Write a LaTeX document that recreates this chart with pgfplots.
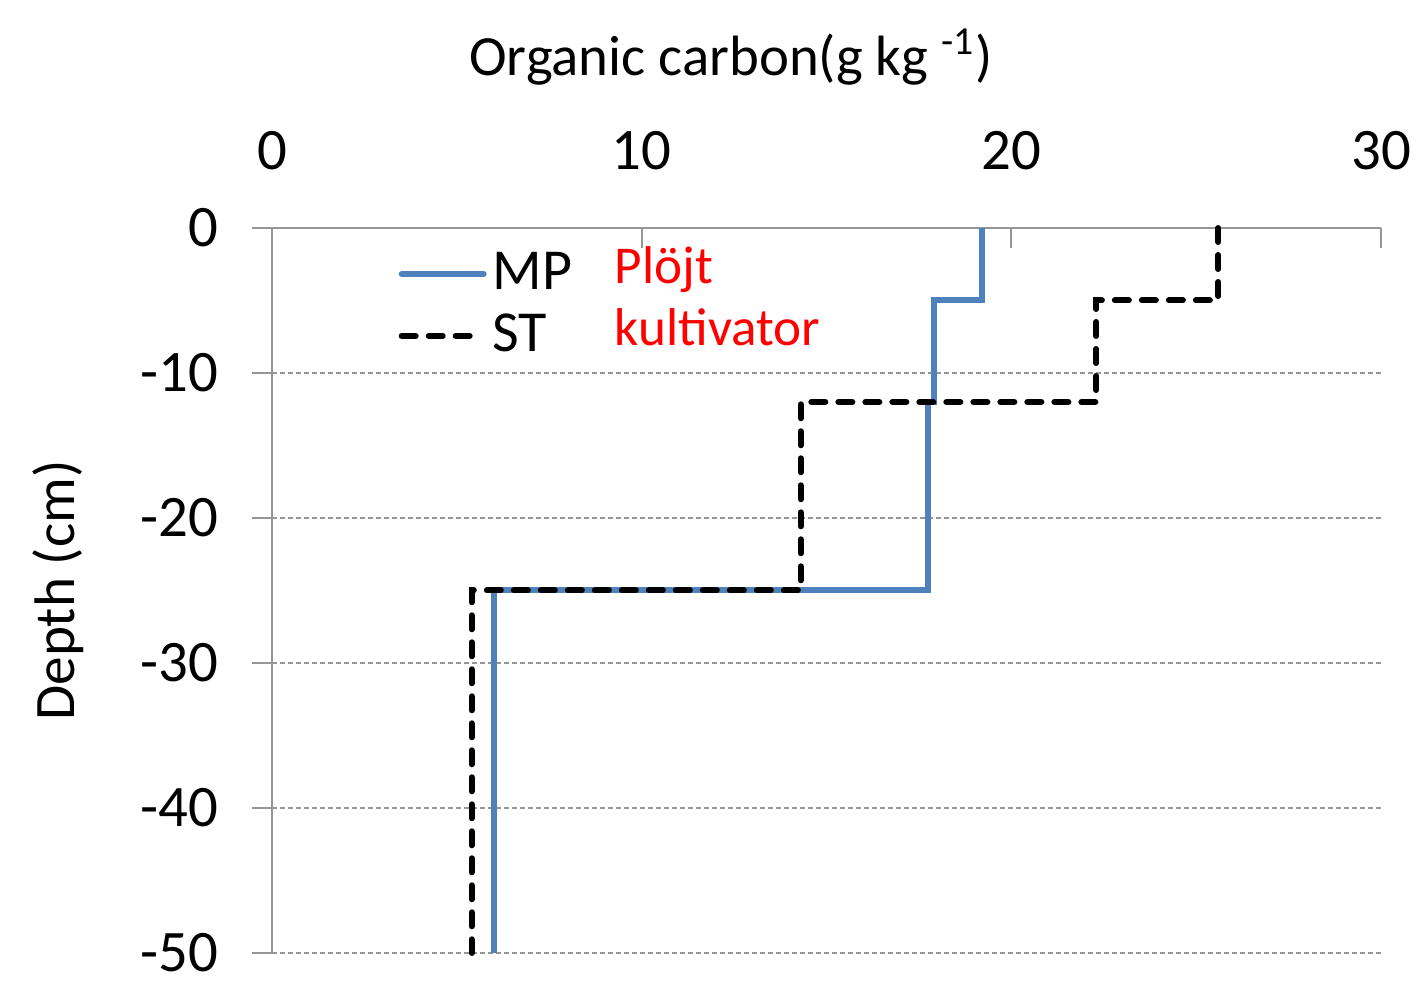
\documentclass[border=0pt]{standalone}
\usepackage{fontspec}
\setmainfont{Carlito}
\usepackage{pgfplots}
\pgfplotsset{compat=1.18}
\usetikzlibrary{calc}

\definecolor{mpblue}{RGB}{79,129,189}
\definecolor{gridgray}{RGB}{150,150,150}

% shorter legend sample for the dashed series
\pgfplotsset{short legend/.style={
    legend image code/.code={\draw[##1] (0pt,0pt) -- (18pt,0pt);}}}

\begin{document}
\begin{tikzpicture}
  \begin{axis}[
      name=ax,
      scale only axis,
      width=277.25pt, height=181.25pt,
      xmin=0, xmax=30,
      ymin=-50, ymax=0,
      xtick={0,10,20,30},
      ytick={0,-10,-20,-30,-40,-50},
      axis x line=top,
      axis y line=left,
      x axis line style={-, gridgray, line width=0.5pt},
      y axis line style={-, gridgray, line width=0.5pt},
      tick align=outside,
      major tick length=5pt,
      xtick style={gridgray, line width=0.5pt, yshift=-5pt},
      ytick style={gridgray, line width=0.5pt},
      ymajorgrids=true,
      grid style={gridgray, line width=0.45pt, dash pattern=on 1.2pt off 0.8pt},
      tick label style={font=\fontsize{14.7}{17}\selectfont},
      /pgf/number format/assume math mode=true,
      xticklabel shift=6pt,
      yticklabel shift=5pt,
      xlabel={Organic carbon(g kg \textsuperscript{-1})},
      xlabel style={at={(rel axis cs:0.414,1.211)}, anchor=base,
        font=\fontsize{14.2}{17}\selectfont},
      ylabel={Depth (cm)},
      ylabel style={at={(rel axis cs:-0.193,0.5)}, anchor=center,
        font=\fontsize{14.3}{17}\selectfont},
      legend style={draw=none, fill=none, at={(rel axis cs:0.1027,0.9866)},
        anchor=north west, font=\fontsize{14.5}{17}\selectfont,
        row sep=1.6pt, nodes={inner sep=1.5pt}},
      legend cell align=left,
      legend image code/.code={\draw[#1, line cap=round] (0pt,0pt) -- (20.5pt,0pt);},
      clip=false,
    ]

    % MP
    \addplot[mpblue, line width=1.5pt] coordinates {
        (19.2,0) (19.2,-5) (17.9,-5) (17.9,-12) (17.75,-12)
        (17.75,-25) (6.0,-25) (6.0,-50)
      };

    % ST
    \addplot[black, line width=1.5pt, line cap=round,
      dash pattern=on 3.5pt off 3.25pt, short legend] coordinates {
        (25.6,0) (25.6,-5) (22.3,-5) (22.3,-12) (14.3,-12)
        (14.3,-25) (5.4,-25) (5.4,-50)
      };

    \legend{MP, ST}

    \node[anchor=base west, red, font=\fontsize{13.3}{16}\selectfont,
      inner sep=0pt] at (axis cs:9.25,-3.86) {Plöjt};
    \node[anchor=base west, red, font=\fontsize{13.3}{16}\selectfont,
      inner sep=0pt] at (axis cs:9.25,-8.07) {kultivator};
  \end{axis}
  \pgfresetboundingbox
  \path ($(ax.south west)+(-68pt,-7pt)$) rectangle ($(ax.north east)+(9.25pt,57pt)$);
\end{tikzpicture}
\end{document}
